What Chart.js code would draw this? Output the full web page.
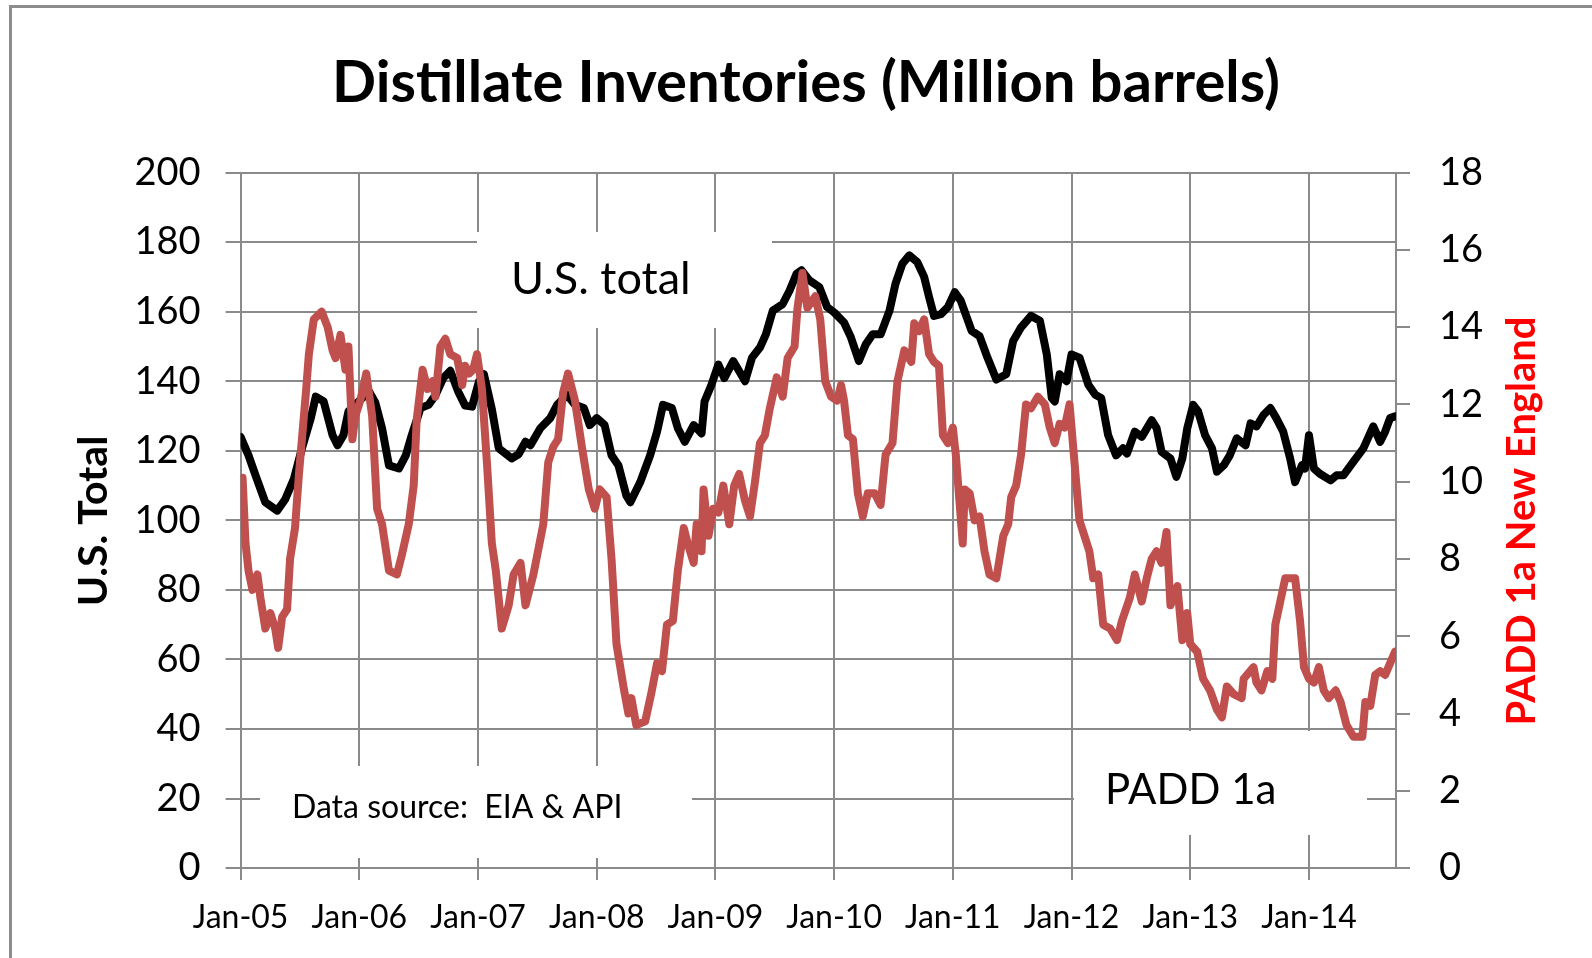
<!DOCTYPE html>
<html>
<head>
<meta charset="utf-8">
<title>Distillate Inventories</title>
<script src="https://cdn.jsdelivr.net/npm/chart.js@4.4.1/dist/chart.umd.min.js"></script>
<style>
  html, body { margin: 0; padding: 0; background: #fff; }
  canvas { display: block; }
</style>
</head>
<body>
<canvas id="invChart" width="1592" height="958"></canvas>
<script>
// x values are months since Jan 2005 (weekly lines)
const usMonths = [
  0, 0.8, 1.5, 2.5, 3.7, 4.5, 5.4, 6.2, 7.1, 7.6,
  8.4, 9.3, 9.8, 10.4, 10.9, 11.6, 12.3, 13, 13.6, 14.3,
  15, 16, 16.7, 17.3, 18.2, 19, 19.7, 20.5, 21.2, 22,
  22.7, 23.4, 24.1, 24.6, 25.4, 26.1, 27.4, 28.1, 28.8, 29.3,
  30.3, 31.3, 32, 33, 33.8, 34.7, 35.3, 36, 36.8, 37.5,
  38.2, 39, 39.4, 40.4, 41.4, 42.1, 42.7, 43.6, 44.2, 44.9,
  45.8, 46.6, 46.9, 47.6, 48.3, 48.9, 49.8, 51, 51.7, 52.5,
  53.1, 53.8, 54.8, 55.5, 56.2, 56.7, 57.5, 58.5, 59.3, 60,
  61, 61.7, 62.5, 63.2, 63.9, 64.7, 65.6, 66.2, 66.9, 67.6,
  68.4, 69.1, 69.6, 70.1, 70.8, 71.5, 72.2, 72.8, 73.9, 74.7,
  75.5, 76.4, 77.4, 78.1, 78.9, 79.9, 80.8, 81.5, 82, 82.3,
  82.8, 83.5, 84, 84.8, 85.7, 86.4, 87, 87.7, 88.5, 89.2,
  89.6, 90.4, 91.1, 92.1, 92.6, 93.1, 94, 94.6, 95.2, 95.7,
  96.3, 96.8, 97.5, 98.2, 98.7, 99.4, 100, 100.7, 101.6, 102.1,
  102.7, 103.4, 104.1, 104.7, 105.4, 106.1, 106.6, 107.3, 107.6, 108,
  108.5, 109.1, 110.2, 110.8, 111.5, 112.5, 113.5, 114.5, 115.2, 115.7,
  116.2, 116.7
];
const usTotal = [
  124, 118.7, 113, 105.2, 102.8, 106, 112, 120.7, 129.4, 135.6,
  134.2, 124.5, 121.6, 124.5, 131.3, 133.2, 135.2, 137, 134, 126.5,
  115.8, 114.9, 118.7, 124.5, 132.3, 133.2, 136, 141, 143, 137,
  133, 132.7, 140, 142, 132, 120.7, 117.8, 119, 122.6, 121.6,
  126.5, 129.4, 133.2, 136.1, 133.2, 132.3, 127.4, 129.4, 127.4, 118.7,
  115.8, 107.1, 105.2, 111, 118.7, 125.5, 133.2, 132.3, 126.5, 122.6,
  127.4, 125, 134.2, 139, 144.8, 140.9, 145.8, 140, 146.8, 149.7,
  153.5, 160.3, 162.2, 166.1, 170.9, 171.9, 169, 167.1, 161.3, 159.8,
  156.9, 152.6, 145.8, 150.6, 153.5, 153.5, 160.3, 168, 173.8, 176.2,
  174.3, 170, 164.2, 158.8, 159.3, 161.3, 165.6, 163.2, 154.5, 153,
  146.8, 140.5, 142, 151.6, 155.5, 158.8, 157.4, 147.7, 135.2, 134.2,
  142, 140, 147.7, 146.8, 139, 136.1, 135.2, 124.5, 118.7, 120.7,
  119.2, 125.5, 124, 128.8, 126.5, 119.7, 117.8, 112.5, 117.8, 126.5,
  133.2, 131.3, 124.5, 120.7, 114, 115.9, 118.7, 123.6, 121.6, 127.9,
  127, 130.3, 132.3, 129.4, 125.5, 117.8, 111, 115.9, 114.9, 124.5,
  114.9, 113.4, 111.5, 113, 113, 116.9, 120.7, 127, 122.6, 125.5,
  129.4, 129.9
];

const paddMonths = [
  0.2, 0.5, 0.8, 1.2, 1.7, 2, 2.5, 3, 3.5, 3.8,
  4.2, 4.7, 5, 5.5, 5.9, 6.2, 6.6, 6.9, 7.4, 8.2,
  8.8, 9.3, 9.6, 10.1, 10.6, 10.9, 11.3, 11.6, 12.1, 12.7,
  13.3, 13.8, 14.3, 15, 15.8, 16.3, 17, 17.5, 17.8, 18.4,
  18.9, 19.4, 19.7, 20.2, 20.7, 21.2, 21.9, 22.4, 22.7, 23.1,
  23.5, 23.9, 24.4, 24.9, 25.4, 25.8, 26.4, 27.1, 27.6, 28.3,
  28.8, 29.6, 30.6, 31.1, 31.6, 32.1, 32.6, 33.1, 33.8, 34.5,
  35.2, 35.8, 36.3, 37, 37.5, 38, 38.7, 39.2, 39.5, 40,
  40.9, 41.5, 42.1, 42.6, 43.1, 43.7, 44.2, 44.8, 45.2, 45.8,
  46.1, 46.6, 46.8, 47.3, 47.8, 48.3, 48.8, 49.4, 49.9, 50.4,
  51, 51.5, 52, 52.5, 53, 53.5, 54.2, 54.8, 55.3, 56,
  56.3, 56.8, 57.3, 58.1, 58.6, 59.1, 59.7, 60.3, 60.7, 61,
  61.4, 61.9, 62.4, 62.9, 63.4, 64.1, 64.7, 65.2, 65.9, 66.4,
  67.1, 67.8, 68.1, 68.6, 69.1, 69.6, 70.1, 70.6, 71, 71.5,
  72, 72.3, 72.7, 73, 73.2, 73.7, 74.2, 74.7, 75.2, 75.7,
  76.4, 77.1, 77.6, 77.9, 78.4, 78.9, 79.4, 79.9, 80.6, 81.3,
  81.8, 82.3, 82.8, 83.3, 83.8, 84.3, 84.8, 85.3, 85.8, 86.2,
  86.7, 87.2, 87.9, 88.6, 89.1, 89.9, 90.4, 91.1, 91.6, 92.1,
  92.6, 93.1, 93.6, 94, 94.7, 95.2, 95.7, 96, 96.7, 97.3,
  98, 98.7, 99.2, 99.7, 100.4, 101.2, 101.4, 102.4, 102.7, 103.2,
  103.8, 104.3, 104.6, 105.1, 105.6, 106.1, 106.6, 107.1, 107.5, 108,
  108.5, 109, 109.5, 110, 110.7, 111.2, 111.8, 112.5, 113.4, 113.7,
  114.2, 114.7, 115.2, 115.7, 116.2, 116.7
];
const paddNewEngland = [
  10.1, 8.4, 7.7, 7.2, 7.6, 7.0, 6.2, 6.6, 6.2, 5.7,
  6.5, 6.7, 8.0, 8.8, 10.2, 11.1, 12.3, 13.3, 14.2, 14.4,
  14.0, 13.4, 13.2, 13.8, 12.9, 13.5, 11.1, 11.7, 12.1, 12.8,
  11.7, 9.3, 8.9, 7.7, 7.6, 8.1, 8.9, 9.9, 11.6, 12.9,
  12.4, 12.6, 12.2, 13.5, 13.7, 13.3, 13.2, 12.5, 13.0, 12.8,
  12.9, 13.3, 12.4, 10.5, 8.4, 7.7, 6.2, 6.8, 7.6, 7.9,
  6.8, 7.6, 8.9, 10.5, 10.9, 11.1, 12.3, 12.8, 12.1, 10.9,
  9.8, 9.3, 9.8, 9.6, 8.0, 5.8, 4.7, 4.0, 4.4, 3.7,
  3.8, 4.5, 5.3, 5.1, 6.3, 6.4, 7.7, 8.8, 8.4, 7.9,
  8.9, 8.2, 9.8, 8.6, 9.3, 9.2, 9.9, 8.9, 9.9, 10.2,
  9.5, 9.1, 10.0, 11.0, 11.2, 11.9, 12.7, 12.2, 13.2, 13.5,
  14.5, 15.4, 14.5, 14.8, 14.2, 12.6, 12.2, 12.1, 12.5, 12.1,
  11.2, 11.1, 9.7, 9.1, 9.7, 9.7, 9.4, 10.7, 11.0, 12.6,
  13.4, 13.1, 14.1, 13.9, 14.2, 13.3, 13.1, 13.0, 11.2, 11.0,
  11.4, 10.7, 9.4, 8.4, 9.8, 9.7, 9.0, 9.1, 8.2, 7.6,
  7.5, 8.6, 8.9, 9.6, 9.9, 10.7, 12.0, 11.9, 12.2, 12.0,
  11.4, 11.0, 11.5, 11.4, 12.0, 10.5, 9.0, 8.6, 8.2, 7.5,
  7.6, 6.3, 6.2, 5.9, 6.4, 7.0, 7.6, 6.9, 7.5, 8.0,
  8.2, 7.9, 8.7, 6.8, 7.3, 5.9, 6.6, 5.8, 5.6, 4.9,
  4.6, 4.1, 3.9, 4.7, 4.5, 4.4, 4.9, 5.2, 4.8, 4.6,
  5.1, 4.9, 6.3, 6.9, 7.5, 7.5, 7.5, 6.4, 5.2, 4.9,
  4.8, 5.2, 4.6, 4.4, 4.6, 4.3, 3.7, 3.4, 3.4, 4.3,
  4.2, 5.0, 5.1, 5.0, 5.3, 5.6
];

const yearTicks = ["Jan-05", "Jan-06", "Jan-07", "Jan-08", "Jan-09",
  "Jan-10", "Jan-11", "Jan-12", "Jan-13", "Jan-14"];

const toPoints = (xs, ys) => xs.map((x, i) => ({ x: x, y: ys[i] }));

const gridColor = "#8a8a8a";
Chart.defaults.font.family = "Lato, 'DejaVu Sans', sans-serif";

// frame, white text boxes and all free text
const decorations = {
  id: "decorations",
  beforeDraw(chart) {
    const ctx = chart.ctx;
    ctx.save();
    ctx.fillStyle = "#fff";
    ctx.fillRect(0, 0, chart.width, chart.height);
    ctx.fillStyle = "#8c8c8c";
    ctx.fillRect(9, 5, 3, chart.height);
    ctx.fillRect(9, 5, chart.width, 3);
    ctx.restore();
  },
  beforeDatasetsDraw(chart) {
    const ctx = chart.ctx;
    ctx.save();
    ctx.fillStyle = "#fff";
    ctx.fillRect(477, 232, 295, 96);
    ctx.fillRect(260, 766, 432, 92);
    ctx.fillRect(1074, 731, 293, 104);
    ctx.restore();
  },
  afterDraw(chart) {
    const ctx = chart.ctx;
    ctx.save();
    ctx.fillStyle = "#000";
    ctx.textBaseline = "alphabetic";

    ctx.textAlign = "center";
    ctx.font = "bold 58px Lato";
    ctx.fillText("Distillate Inventories (Million barrels)", 806, 102);

    ctx.textAlign = "left";
    ctx.font = "45px Lato";
    ctx.fillText("U.S. total", 511, 294);
    ctx.font = "32px Lato";
    ctx.fillText("Data source:  EIA & API", 292, 818);
    ctx.font = "42px Lato";
    ctx.fillText("PADD 1a", 1105, 804);

    ctx.textAlign = "center";
    ctx.font = "bold 41px Lato";
    ctx.save();
    ctx.translate(107, 521);
    ctx.rotate(-Math.PI / 2);
    ctx.fillText("U.S. Total", 0, 0);
    ctx.restore();

    ctx.save();
    ctx.fillStyle = "#ff0000";
    ctx.font = "bold 40px Lato";
    ctx.translate(1535, 521);
    ctx.rotate(-Math.PI / 2);
    ctx.fillText("PADD 1a New England", 0, 0);
    ctx.restore();

    ctx.restore();
  }
};

new Chart(document.getElementById("invChart"), {
  type: "line",
  data: {
    datasets: [
      {
        label: "U.S. total",
        data: toPoints(usMonths, usTotal),
        yAxisID: "y",
        borderColor: "#000000",
        borderWidth: 8,
        pointRadius: 0,
        borderJoinStyle: "round",
        borderCapStyle: "round",
        order: 2,
      },
      {
        label: "PADD 1a",
        data: toPoints(paddMonths, paddNewEngland),
        yAxisID: "y2",
        borderColor: "#c0504d",
        borderWidth: 8,
        pointRadius: 0,
        borderJoinStyle: "round",
        borderCapStyle: "round",
        order: 1,
      },
    ],
  },
  options: {
    responsive: false,
    animation: false,
    devicePixelRatio: 1,
    layout: { padding: { top: 172.6, left: 0, right: 0, bottom: 0 } },
    plugins: {
      legend: { display: false },
      tooltip: { enabled: false },
    },
    scales: {
      x: {
        type: "linear",
        min: 0,
        max: 116.8,
        afterBuildTicks: (scale) => {
          scale.ticks = yearTicks.map((t, i) => ({ value: i * 12 }));
        },
        afterFit: (scale) => {
          scale.height = 958 - 868.1;
        },
        ticks: {
          callback: (v, i) => yearTicks[i],
          font: { size: 32 },
          color: "#000",
          padding: 18,
          maxRotation: 0,
          autoSkip: false,
        },
        grid: { color: gridColor, lineWidth: 2, tickLength: 12 },
        border: { color: gridColor, width: 2 },
      },
      y: {
        position: "left",
        min: 0,
        max: 200,
        ticks: { stepSize: 20, font: { size: 38 }, color: "#000", padding: 25 },
        grid: { color: gridColor, lineWidth: 2, tickLength: 15 },
        border: { color: gridColor, width: 2 },
        afterFit: (scale) => {
          scale.width = 240.6;
        },
      },
      y2: {
        position: "right",
        min: 0,
        max: 18,
        ticks: { stepSize: 2, font: { size: 38 }, color: "#000", padding: 29 },
        grid: { drawOnChartArea: false, color: gridColor, lineWidth: 2, tickLength: 14 },
        border: { color: gridColor, width: 2 },
        afterFit: (scale) => {
          scale.width = 196;
        },
      },
    },
  },
  plugins: [decorations],
});
</script>
</body>
</html>
